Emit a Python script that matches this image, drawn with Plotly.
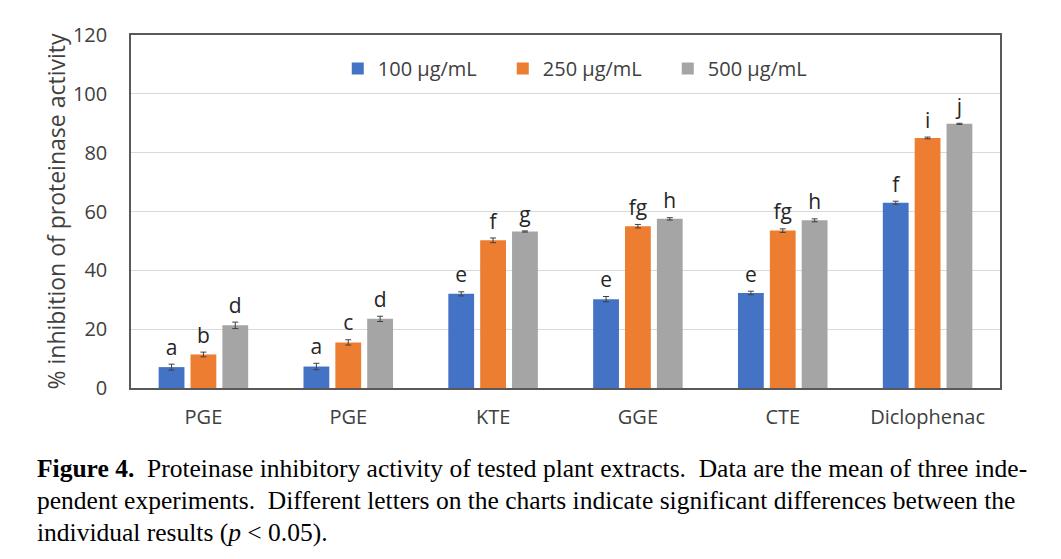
import plotly.graph_objects as go

categories = ["PGE", "PGE", "KTE", "GGE", "CTE", "Diclophenac"]
series_names = ["100 µg/mL", "250 µg/mL", "500 µg/mL"]
v100 = [7.1, 7.3, 32.0, 30.2, 32.3, 63.0]
v250 = [11.4, 15.5, 50.2, 55.0, 53.5, 85.0]
v500 = [21.3, 23.5, 53.2, 57.5, 57.0, 89.8]
e100 = [1.0, 1.1, 0.7, 0.9, 0.6, 0.5]
e250 = [0.8, 0.9, 0.8, 0.6, 0.6, 0.3]
e500 = [1.1, 0.9, 0.2, 0.4, 0.5, 0.2]
l100 = ["a", "a", "e", "e", "e", "f"]
l250 = ["b", "c", "f", "fg", "fg", "i"]
l500 = ["d", "d", "g", "h", "h", "j"]
colors = ["#4472C4", "#ED7D31", "#A5A5A5"]
yticks = [0, 20, 40, 60, 80, 100, 120]

xs = list(range(len(categories)))
font = "Open Sans"
fig = go.Figure()
for i, (name, vals, errs, col) in enumerate(zip(series_names, [v100, v250, v500], [e100, e250, e500], colors)):
    fig.add_trace(go.Bar(
        x=xs, y=vals, name=name, marker=dict(color=col, line=dict(width=0)),
        offsetgroup=str(i),
        error_y=dict(type="data", array=errs, visible=True, color="#404040", thickness=1, width=3),
    ))
for i, (vals, errs, labs) in enumerate(zip([v100, v250, v500], [e100, e250, e500], [l100, l250, l500])):
    fig.add_trace(go.Scatter(
        x=xs, y=[v + e for v, e in zip(vals, errs)], mode="markers+text", text=labs,
        marker=dict(size=5, opacity=0),
        textposition="top center", textfont=dict(family=font, size=21, color="#262626"),
        offsetgroup=str(i), showlegend=False, hoverinfo="skip",
    ))

fig.update_layout(
    width=1061, height=559,
    margin=dict(l=131, r=61, t=35, b=171),
    paper_bgcolor="white", plot_bgcolor="white",
    barmode="group", scattermode="group", bargap=0.34, bargroupgap=0.19,
    font=dict(family=font, size=20, color="#404040"),
    legend=dict(orientation="h", x=(338 - 131) / 870, xanchor="left", y=0.905, yanchor="middle",
                font=dict(family=font, size=20, color="#404040"), bgcolor="rgba(0,0,0,0)",
                itemwidth=30, traceorder="normal", entrywidth=120, entrywidthmode="pixels"),
    showlegend=True,
)
fig.update_xaxes(
    tickmode="array", tickvals=xs, ticktext=categories, range=[-0.5, 5.5],
    showline=True, linecolor="#595959", linewidth=1.5, mirror=True,
    ticks="", showgrid=False, ticklabelstandoff=10,
    tickfont=dict(family=font, size=20, color="#404040"),
)
fig.update_yaxes(
    range=[0, 120], tickmode="array", tickvals=yticks,
    showline=True, linecolor="#595959", linewidth=1.5, mirror=True,
    showgrid=True, gridcolor="#D9D9D9", gridwidth=1, ticks="", ticklabelstandoff=18,
    zeroline=False,
    tickfont=dict(family=font, size=20, color="#404040"),
    title=dict(text="% inhibition of proteinase activity", font=dict(family=font, size=23, color="#404040"), standoff=1),
)

cap = [
    "<b>Figure 4.</b>  Proteinase inhibitory activity of tested plant extracts.  Data are the mean of three inde-",
    "pendent experiments.  Different letters on the charts indicate significant differences between the",
    "individual results (<i>p</i> &lt; 0.05).",
]
for k, line in enumerate(cap):
    fig.add_annotation(
        text=line, xref="paper", yref="paper", x=-96 / 870, xanchor="left",
        y=0, yshift=-(80 + 32 * k), yanchor="middle", showarrow=False, align="left",
        font=dict(family="Liberation Serif", size=25.5, color="#000000"),
    )

fig.write_html("out.html")
